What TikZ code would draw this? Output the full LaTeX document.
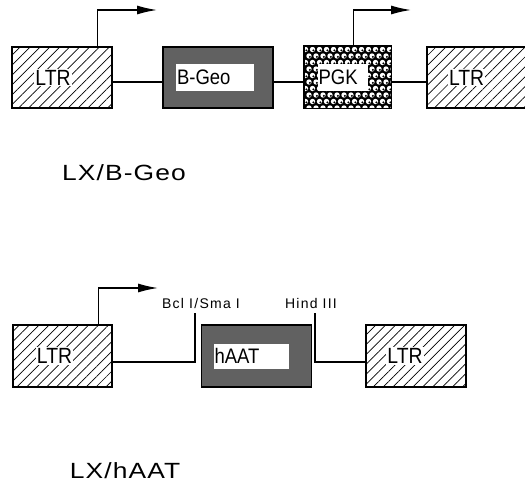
\documentclass[tikz,border=0pt]{standalone}
\usepackage{fontspec}
\setmainfont{Liberation Sans}
\newfontfamily\boxfont[FakeStretch=0.88]{Liberation Sans}
\newfontfamily\capfont[FakeStretch=1.2,LetterSpace=5]{Liberation Sans}
\newfontfamily\sitefont[LetterSpace=9]{Liberation Sans}
\usetikzlibrary{positioning,patterns.meta,arrows.meta}

\begin{document}
\begin{tikzpicture}[
    x=1pt, y=1pt,
    ltrbox/.style={
        draw,
        line width=1.5pt,
        minimum width=100pt,
        minimum height=61pt,
        inner sep=0pt,
        pattern={Lines[angle=45,distance=7pt,line width=0.7pt]}
    },
    genebox/.style={
        draw,
        line width=1.5pt,
        fill=black!62,
        minimum width=110pt,
        minimum height=61pt,
        inner sep=0pt
    },
    pgkbox/.style={
        draw,
        line width=1.5pt,
        fill=black,
        minimum width=86pt,
        minimum height=61pt,
        inner sep=0pt
    },
    labelbox/.style={fill=white, inner sep=1pt, font=\boxfont\fontsize{22}{26}\selectfont},
    insetbox/.style={
        fill=white,
        inner ysep=0pt,
        inner xsep=1pt,
        minimum height=27pt,
        align=left,
        font=\boxfont\fontsize{21}{25}\selectfont
    },
    sitelabel/.style={inner sep=0pt, font=\sitefont\fontsize{14}{16}\selectfont},
    caption/.style={font=\capfont\fontsize{22}{26}\selectfont},
    dnaline/.style={line width=1.4pt},
    promoter/.style={line width=1.4pt, arrows={-Latex[length=20pt,width=9pt]}}
]
\useasboundingbox (0,0) rectangle (525,483);

% LX/B-Geo
\node[ltrbox] (ltrA) at (62,405.5) {};
\node[genebox, right=50pt of ltrA] (bgeo) {};
\node[pgkbox, right=30pt of bgeo] (pgk) {};
\node[ltrbox, minimum width=99pt, right=35pt of pgk] (ltrB) {};

\begin{scope}
\clip (pgk.south west) rectangle (pgk.north east);
\foreach \j in {0,...,10} {
  \foreach \i in {0,...,13} {
    \pgfmathsetmacro{\bx}{302+\i*7+mod(\j,2)*3.5}
    \pgfmathsetmacro{\by}{375+\j*6.5}
    \fill[white] (\bx,\by) circle (2.7pt);
    \fill[black] (\bx+0.9,\by-0.9) circle (1.1pt);
  }
}
\end{scope}
\draw[line width=1.5pt] (pgk.south west) rectangle (pgk.north east);

\node[labelbox, xshift=-9pt] (ltrAtext) at (ltrA) {LTR};
\node[insetbox, text width=76pt, xshift=-3pt] (bgeoText) at (bgeo) {B-Geo};
\node[insetbox, text width=48pt, xshift=-5pt] (pgkText) at (pgk) {PGK};
\node[labelbox, xshift=-10pt] (ltrBtext) at (ltrB) {LTR};

\draw[dnaline] ([yshift=-4.5pt]ltrA.east) -- ([yshift=-4.5pt]bgeo.west);
\draw[dnaline] ([yshift=-4.5pt]bgeo.east) -- ([yshift=-4.5pt]pgk.west);
\draw[dnaline] ([yshift=-4.5pt]pgk.east) -- ([yshift=-4.5pt]ltrB.west);

\coordinate (tssA) at ([xshift=-15pt]ltrA.north east);
\coordinate (endA) at (157,473);
\coordinate (tssB) at ([xshift=-38pt]pgk.north east);
\coordinate (endB) at (411,473);
\draw[promoter] (tssA) |- (endA);
\draw[promoter] (tssB) |- (endB);

\node[caption] (capA) at (124,310) {LX/B-Geo};

% LX/hAAT
\node[ltrbox, minimum width=99pt, minimum height=62pt] (ltrC) at (62.5,127) {};
\node[genebox, minimum height=62pt, right=88pt of ltrC] (haat) {};
\node[ltrbox, minimum height=62pt, right=53pt of haat] (ltrD) {};

\node[labelbox, xshift=-8pt] (ltrCtext) at (ltrC) {LTR};
\node[insetbox, text width=73pt, minimum height=25pt, xshift=-5.5pt] (haatText) at (haat) {hAAT};
\node[labelbox, xshift=-11pt] (ltrDtext) at (ltrD) {LTR};

\coordinate (bclSite) at (195,170);
\coordinate (hindSite) at (315,170);
\draw[dnaline] ([yshift=-6pt]ltrC.east) -| (bclSite);
\draw[dnaline] (hindSite) |- ([yshift=-6pt]ltrD.west);
\node[sitelabel, above=4pt of bclSite, xshift=6pt] (bclText) {Bcl I/Sma I};
\node[sitelabel, above=4pt of hindSite, xshift=-4pt] (hindText) {Hind\hspace{5pt}III};

\coordinate (tssC) at ([xshift=-14pt]ltrC.north east);
\coordinate (endC) at (158,195);
\draw[promoter] (tssC) |- (endC);

\node[caption] (capB) at (125,12) {LX/hAAT};
\end{tikzpicture}
\end{document}
